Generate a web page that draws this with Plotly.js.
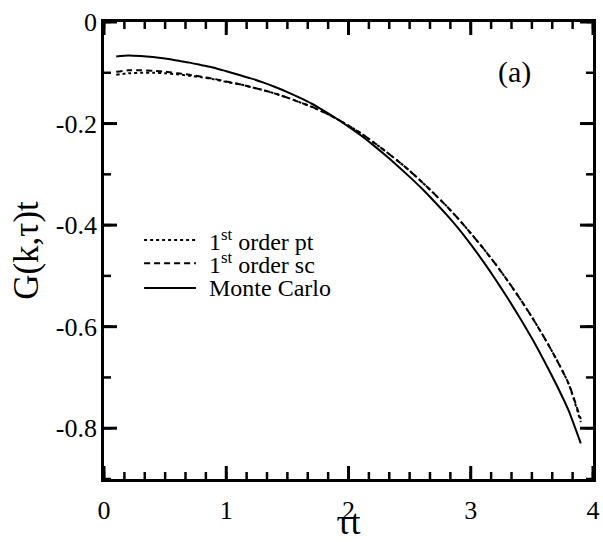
<!DOCTYPE html>
<html>
<head>
<meta charset="utf-8">
<script src="https://cdn.plot.ly/plotly-3.0.1.min.js"></script>
<style>
  html, body { margin: 0; padding: 0; background: #fff; }
  #plot { width: 603px; height: 542px; }
</style>
</head>
<body>
<div id="plot"></div>
<script>
// Imaginary-time Green's function G(k,tau)t versus tau*t
const tauT = [0.1, 0.2, 0.3, 0.4, 0.5, 0.6, 0.7, 0.8, 0.9, 1.0,
              1.1, 1.2, 1.3, 1.4, 1.5, 1.6, 1.7, 1.8, 1.9, 2.0,
              2.1, 2.2, 2.3, 2.4, 2.5, 2.6, 2.7, 2.8, 2.9, 3.0,
              3.1, 3.2, 3.3, 3.4, 3.5, 3.6, 3.7, 3.8, 3.9];

// first-order perturbation theory
const firstOrderPt = [-0.104, -0.101, -0.100, -0.100, -0.101, -0.103, -0.106, -0.109, -0.113, -0.118,
                      -0.122, -0.128, -0.134, -0.141, -0.149, -0.158, -0.167, -0.178, -0.190, -0.204,
                      -0.219, -0.236, -0.254, -0.273, -0.293, -0.315, -0.338, -0.362, -0.388, -0.416,
                      -0.445, -0.476, -0.509, -0.544, -0.581, -0.621, -0.664, -0.712, -0.788];

// first-order self-consistent
const firstOrderSc = [-0.098, -0.095, -0.095, -0.096, -0.098, -0.101, -0.104, -0.108, -0.112, -0.117,
                      -0.122, -0.128, -0.134, -0.141, -0.149, -0.158, -0.167, -0.178, -0.190, -0.204,
                      -0.219, -0.236, -0.254, -0.273, -0.293, -0.315, -0.338, -0.362, -0.388, -0.416,
                      -0.445, -0.476, -0.509, -0.544, -0.581, -0.621, -0.664, -0.712, -0.782];

// Monte Carlo
const monteCarlo = [-0.068, -0.066, -0.067, -0.069, -0.072, -0.076, -0.080, -0.085, -0.090, -0.097,
                    -0.104, -0.111, -0.119, -0.128, -0.138, -0.149, -0.161, -0.175, -0.190, -0.206,
                    -0.223, -0.242, -0.262, -0.283, -0.305, -0.328, -0.353, -0.379, -0.407, -0.438,
                    -0.471, -0.506, -0.543, -0.582, -0.623, -0.667, -0.714, -0.765, -0.830];

const xTickVals = [0, 1, 2, 3, 4];
const xTickText = ['0', '1', '2', '3', '4'];
const yTickVals = [0, -0.2, -0.4, -0.6, -0.8];
const yTickText = ['0', '-0.2', '-0.4', '-0.6', '-0.8'];

const seriesNames = ['1<sup>st</sup> order pt', '1<sup>st</sup> order sc', 'Monte Carlo'];
const seriesDash = ['dot', '6px,4px', 'solid'];

const serif = 'Liberation Serif, Times New Roman, serif';
const X_RANGE = [0, 4];
const Y_RANGE = [-0.9, 0];

const traces = [firstOrderPt, firstOrderSc, monteCarlo].map((ys, i) => ({
  x: tauT, y: ys, type: 'scatter', mode: 'lines', name: seriesNames[i],
  line: { color: '#000', width: 2, dash: seriesDash[i], shape: 'spline', smoothing: 0.6 },
  showlegend: false
}));
// empty trace so that the labelled left axis (y2) is laid out
traces.push({ x: [], y: [], xaxis: 'x', yaxis: 'y2', type: 'scatter', mode: 'lines', showlegend: false, hoverinfo: 'skip' });

const shapes = [];

// inward-pointing frame ticks on all four sides, sized in pixels
function steps(from, to, step) {
  const out = [];
  const n = Math.round((to - from) / step);
  for (let k = 0; k <= n; k++) out.push(from + k * step);
  return out;
}
function addXTicks(vals, len, width) {
  vals.forEach(v => {
    [[0, len], [1, -len]].forEach(([anchor, l]) => shapes.push({
      type: 'line', xref: 'x', yref: 'paper', ysizemode: 'pixel', yanchor: anchor,
      x0: v, x1: v, y0: 0, y1: l, line: { color: '#000', width: width }
    }));
  });
}
function addYTicks(vals, len, width) {
  vals.forEach(v => {
    [[0, len], [1, -len]].forEach(([anchor, l]) => shapes.push({
      type: 'line', xref: 'paper', yref: 'y', xsizemode: 'pixel', xanchor: anchor,
      x0: 0, x1: l, y0: v, y1: v, line: { color: '#000', width: width }
    }));
  });
}
addXTicks(steps(X_RANGE[0], X_RANGE[1], 1 / 6), 7, 2.5);
addXTicks(steps(X_RANGE[0], X_RANGE[1], 1), 13, 3);
addYTicks(steps(Y_RANGE[0], Y_RANGE[1], 0.1), 7, 2.5);
addYTicks(steps(-0.8, 0, 0.2), 13, 3);

// hand-placed key: sample line segments plus labels (paper coordinates)
const keyRowsY = [0.523, 0.472, 0.418];
const keyX0 = 0.082, keyX1 = 0.188, keyTextX = 0.21;
keyRowsY.forEach((yy, i) => shapes.push({
  type: 'line', xref: 'paper', yref: 'paper', x0: keyX0, x1: keyX1, y0: yy, y1: yy,
  line: { color: '#000', width: 2, dash: seriesDash[i] }
}));
const annotations = keyRowsY.map((yy, i) => ({
  xref: 'paper', yref: 'paper', x: keyTextX, y: yy, xanchor: 'left', yanchor: 'middle',
  text: seriesNames[i], showarrow: false, font: { family: serif, size: 24, color: '#000' }
}));
annotations.push({
  xref: 'x', yref: 'y', x: 3.36, y: -0.098, text: '(a)', showarrow: false,
  xanchor: 'center', yanchor: 'middle', font: { family: serif, size: 30, color: '#000' }
});

const tickFont = { family: serif, size: 26, color: '#000' };
const titleFont = { family: serif, size: 35, color: '#000' };

const layout = {
  width: 603, height: 542,
  margin: { l: 104, r: 10, t: 22, b: 63 },
  paper_bgcolor: '#fff', plot_bgcolor: '#fff',
  xaxis: {
    range: X_RANGE, tickmode: 'array', tickvals: xTickVals, ticktext: xTickText,
    showline: true, linecolor: '#000', linewidth: 3, mirror: true,
    ticks: '', showgrid: false, zeroline: false, tickfont: tickFont, ticklabelstandoff: 6,
    title: { text: 'τt', font: titleFont, standoff: 5 }
  },
  yaxis: {
    range: Y_RANGE, showline: true, linecolor: '#000', linewidth: 3, mirror: true,
    ticks: '', showgrid: false, zeroline: false, showticklabels: false
  },
  // labels for the left axis, written with a plain hyphen as the minus sign
  yaxis2: {
    overlaying: 'y', side: 'left', anchor: 'x', range: Y_RANGE,
    tickmode: 'array', tickvals: yTickVals, ticktext: yTickText,
    ticks: '', showline: false, showgrid: false, zeroline: false,
    tickfont: tickFont, ticklabelstandoff: 6,
    title: { text: 'G(k,τ)t', font: titleFont, standoff: 6 }
  },
  shapes: shapes,
  annotations: annotations,
  showlegend: false
};

Plotly.newPlot('plot', traces, layout, { displayModeBar: false, staticPlot: true });
</script>
</body>
</html>
